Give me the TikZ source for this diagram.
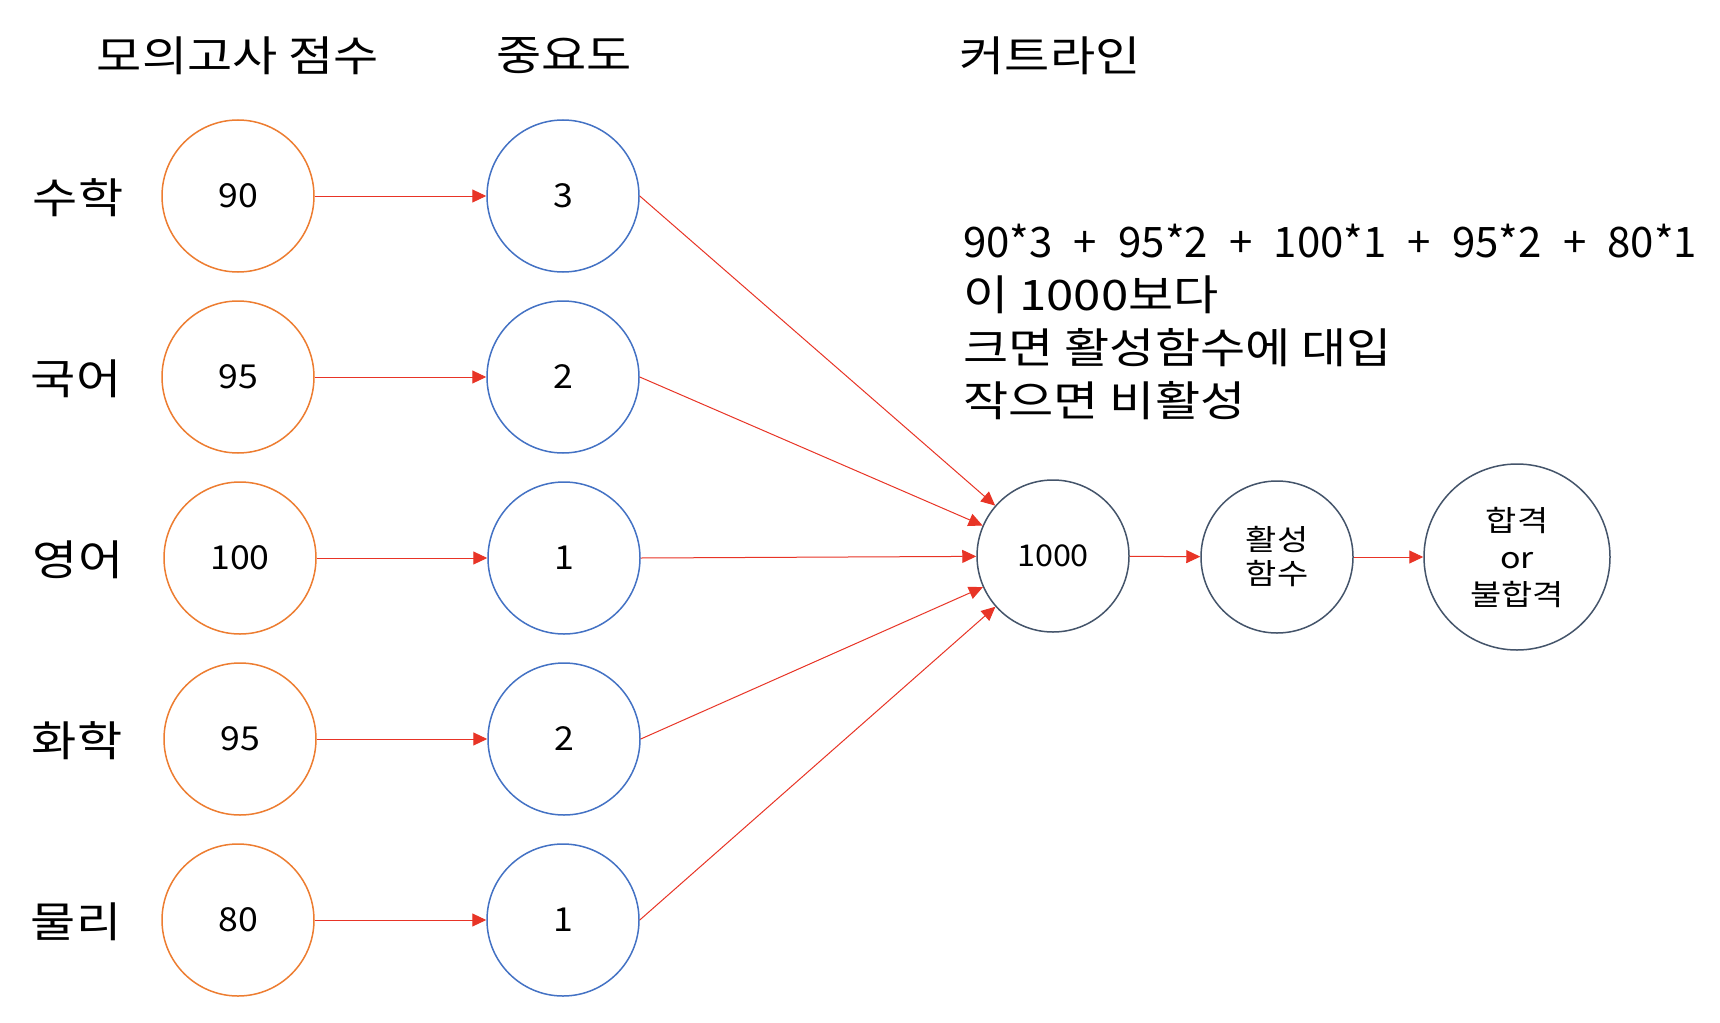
\documentclass[tikz,border=0pt]{standalone}
\usepackage{fontspec}
\setmainfont{Noto Sans CJK KR}
\newfontfamily\widefont[FakeStretch=1.17]{Noto Sans CJK KR}
\newfontfamily\numfont[FakeStretch=1.08]{Noto Sans CJK KR}
\usetikzlibrary{arrows.meta}
\definecolor{orng}{RGB}{237,125,49}
\definecolor{blu}{RGB}{68,114,196}
\definecolor{dk}{RGB}{68,84,106}
\definecolor{arr}{RGB}{232,52,38}
\newcommand\eqgap{\ \ \hspace{2.4pt}}
\begin{document}
\begin{tikzpicture}[x=1pt,y=-1pt,
 circ/.style={circle, minimum size=152pt, inner sep=0pt, line width=1.5pt, align=center, font=\numfont\fontsize{33}{38}\selectfont},
 inp/.style={circ, draw=orng},
 wt/.style={circ, draw=blu},
 nd/.style={circ, draw=dk, font=\widefont\fontsize{29}{34}\selectfont},
 lbl/.style={font=\widefont\fontsize{42}{50}\selectfont, inner sep=0pt},
 conn/.style={draw=arr, line width=1pt, -{Triangle[length=14pt,width=13pt]}},
]
\fill[white] (0,0) rectangle (1720,1022);
\useasboundingbox (0,0) rectangle (1720,1022);

% headers
\node[lbl] (h1) at (238,56) {모의고사 점수};
\node[lbl] (h2) at (564,56) {중요도};
\node[lbl] (h3) at (1050,56) {커트라인};

% row labels
\node[lbl] (l1) at (78,198) {수학};
\node[lbl] (l2) at (76,379) {국어};
\node[lbl] (l3) at (78,560) {영어};
\node[lbl] (l4) at (77,741) {화학};
\node[lbl] (l5) at (76,922) {물리};

% inputs
\node[inp] (i1) at (238,196) {90};
\node[inp] (i2) at (238,377) {95};
\node[inp] (i3) at (240,558) {100};
\node[inp] (i4) at (240,739) {95};
\node[inp] (i5) at (238,920) {80};

% weights
\node[wt] (w1) at (563,196) {3};
\node[wt] (w2) at (563,377) {2};
\node[wt] (w3) at (564,558) {1};
\node[wt] (w4) at (564,739) {2};
\node[wt] (w5) at (563,920) {1};

% sum, activation, output
\node[nd, font=\numfont\fontsize{30}{34}\selectfont] (s) at (1053,556) {1000};
\node[nd] (a) at (1277,557) {활성\\함수};
\node[nd, minimum size=186pt, font=\widefont\fontsize{29}{37}\selectfont] (o) at (1517,557) {합격\\or\\불합격};

% explanation
\node[lbl, anchor=west, align=left, font=\widefont\fontsize{42}{53}\selectfont] (t) at (963,322)
 {{\normalfont\fontsize{42}{53}\selectfont 90*3\eqgap+\eqgap95*2\eqgap+\eqgap100*1\eqgap+\eqgap95*2\eqgap+\eqgap80*1}\\이 1000보다\\크면 활성함수에 대입\\작으면 비활성};

% connectors
\foreach \k in {1,...,5} {\draw[conn] (i\k.east) -- (w\k.west);}
\foreach \k in {1,...,5} {\draw[conn] (w\k.east) -- (s);}
\draw[conn] (s) -- (a);
\draw[conn] (a) -- (o);
\end{tikzpicture}
\end{document}
